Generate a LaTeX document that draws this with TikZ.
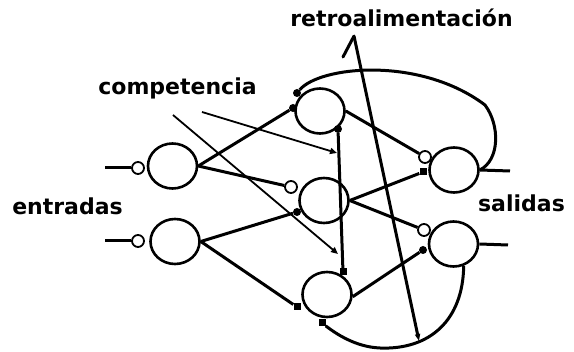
\documentclass[tikz,border=0pt]{standalone}
\usepackage{fontspec}
\newfontfamily\lblfont{DejaVu Sans}
\usetikzlibrary{shapes.geometric,arrows.meta}
\begin{document}
\begin{tikzpicture}[x=1pt,y=-1pt,
 neuron/.style={ellipse,draw,line width=2.6pt,minimum width=49pt,minimum height=45pt,inner sep=0pt},
 syn/.style={circle,draw,line width=1.8pt,fill=white,minimum size=12pt,inner sep=0pt},
 dotm/.style={circle,fill,minimum size=8pt,inner sep=0pt},
 sqm/.style={rectangle,fill,minimum size=7pt,inner sep=0pt},
 conn/.style={line width=3pt},
 thinl/.style={line width=1.8pt},
 lbl/.style={font=\lblfont\bfseries\fontsize{22}{26}\selectfont,anchor=base,inner sep=0pt}]
\useasboundingbox (0,0) rectangle (574,352);
% labels
\node[lbl] (tretro) at (401.5,27) {retroalimentación};
\node[lbl] (tcomp) at (177.5,95) {competencia};
\node[lbl] (tin) at (67.5,215) {entradas};
\node[lbl] (tout) at (521.5,212) {salidas};
% neurons
\node[neuron] (I1) at (172.5,166) {};
\node[neuron] (I2) at (175,241.5) {};
\node[neuron] (H1) at (320,111) {};
\node[neuron] (H2) at (324,200.5) {};
\node[neuron] (H3) at (327,294.5) {};
\node[neuron] (O1) at (454,170) {};
\node[neuron] (O2) at (453.5,244) {};
% free ends
\coordinate (in1) at (105,168);
\coordinate (in2) at (105,241);
\coordinate (out1) at (510,171);
\coordinate (out2) at (508,245);
\coordinate (c1s) at (173,115);
\coordinate (c1e) at (338,254);
\coordinate (c2s) at (202,112);
\coordinate (c2e) at (337,153);
\coordinate (rt) at (354,36);
\coordinate (rl) at (343,57);
\coordinate (rb) at (419,341);
% synapse markers
\node[dotm] (h1a) at (293,108) {};
\node[dotm] (h1fb) at (297,93) {};
\node[dotm] (h1b) at (338,129) {};
\node[dotm] (h2d) at (297,212) {};
\node[sqm] (h3a) at (297,307) {};
\node[sqm] (h3t) at (343,272) {};
\node[sqm] (h3b) at (322,323) {};
\node[sqm] (o1d) at (423,172) {};
\node[dotm] (o2d) at (423,250) {};
% connections
\draw[conn] (I1.east) -- (h1a);
\draw[conn] (I2.east) -- (h2d);
\draw[conn] (I2.east) -- (h3a);
\draw[conn] (H2.east) -- (o1d);
\draw[conn] (H3.-5) -- (o2d);
\draw[conn] (h1b) -- (h3t);
\draw[conn] (h1fb) .. controls (320,66) and (420,56) .. (485,105) .. controls (500,125) and (500,160) .. (O1.east);
\draw[conn] (O2.-65) .. controls (463,320) and (430,350) .. (380,348) .. controls (355,347) and (335,333) .. (h3b);
\draw[thinl,-{Triangle[length=7pt,width=6pt]}] (c1s) -- (c1e);
\draw[thinl,-{Triangle[length=7pt,width=6pt]}] (c2s) -- (c2e);
\draw[conn,-{Triangle[length=7pt,width=5pt]}] (rt) -- (rb);
\draw[conn,line cap=round] (rt) -- (rl);
% inputs / outputs
\node[syn] (s1) at (138,168) {};
\node[syn] (s2) at (138,241) {};
\draw[conn] (in1) -- (s1);
\draw[conn] (in2) -- (s2);
\draw[conn] (O1.east) -- (out1);
\draw[conn] (O2.east) -- (out2);
% inhibitory small circles
\node[syn] (h2c) at (291,187) {};
\node[syn] (o1c) at (425,157) {};
\node[syn] (o2c) at (424,230) {};
\draw[conn] (I1.east) -- (h2c);
\draw[conn] (H1.east) -- (o1c);
\draw[conn] (H2.east) -- (o2c);
\end{tikzpicture}
\end{document}
